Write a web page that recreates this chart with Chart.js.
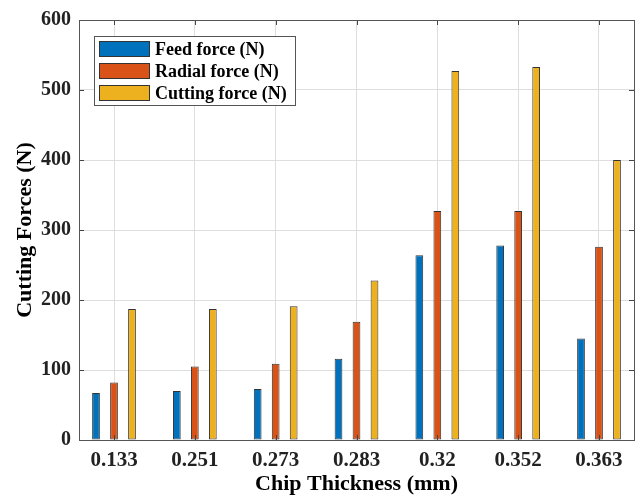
<!DOCTYPE html>
<html>
<head>
<meta charset="utf-8">
<title>Cutting forces vs chip thickness</title>
<script src="https://cdn.jsdelivr.net/npm/chart.js@4/dist/chart.umd.min.js"></script>
<style>
  html, body { margin: 0; padding: 0; background: #fff; }
  canvas { display: block; }
</style>
</head>
<body>
<canvas id="forces" width="637" height="498"></canvas>
<script>
// chip thickness groups and measured forces
const thickness = ["0.133", "0.251", "0.273", "0.283", "0.32", "0.352", "0.363"];
const feedForce = [67, 70, 73, 116, 264, 278, 145];
const radialForce = [82, 105, 109, 169, 327, 327, 276];
const cuttingForce = [187, 187, 191, 228, 527, 533, 400];
const yTicks = [0, 100, 200, 300, 400, 500, 600];

const serif = "'Liberation Serif', 'Times New Roman', serif";
const edge = "#333333";

const toPoints = vals => vals.map((v, i) => ({ x: i + 1, y: v }));

// inward tick marks on all four sides + closing box
const boxTicks = {
    id: "boxTicks",
    afterDatasetsDraw(chart) {
        const { ctx, chartArea: a, scales } = chart;
        ctx.save();
        ctx.strokeStyle = "#444";
        ctx.lineWidth = 1;
        ctx.beginPath();
        scales.x.ticks.forEach(t => {
            const px = Math.round(scales.x.getPixelForValue(t.value)) + 0.5;
            ctx.moveTo(px, a.top); ctx.lineTo(px, a.top + 5);
            ctx.moveTo(px, a.bottom); ctx.lineTo(px, a.bottom - 5);
        });
        scales.y.ticks.forEach(t => {
            const py = Math.round(scales.y.getPixelForValue(t.value)) + 0.5;
            ctx.moveTo(a.left, py); ctx.lineTo(a.left + 5, py);
            ctx.moveTo(a.right, py); ctx.lineTo(a.right - 5, py);
        });
        ctx.stroke();
        ctx.strokeStyle = "#555";
        ctx.strokeRect(Math.round(a.left) + 0.5, Math.round(a.top) + 0.5,
            Math.round(a.right - a.left), Math.round(a.bottom - a.top));
        ctx.restore();
    }
};

// legend box in the upper left corner of the axes
const boxLegend = {
    id: "boxLegend",
    afterDraw(chart) {
        const { ctx, chartArea: a } = chart;
        const x0 = a.left + 15, y0 = a.top + 16;
        ctx.save();
        ctx.fillStyle = "#fff";
        ctx.fillRect(x0, y0, 201, 69);
        ctx.strokeStyle = "#555";
        ctx.lineWidth = 1;
        ctx.strokeRect(x0 + 0.5, y0 + 0.5, 201, 69);
        ctx.font = "bold 18px " + serif;
        ctx.textBaseline = "middle";
        chart.data.datasets.forEach((ds, i) => {
            const cy = y0 + 13 + i * 22;
            ctx.fillStyle = ds.backgroundColor;
            ctx.fillRect(x0 + 5, cy - 8, 51, 16);
            ctx.strokeStyle = edge;
            ctx.strokeRect(x0 + 5.5, cy - 7.5, 50, 15);
            ctx.fillStyle = "#000";
            ctx.fillText(ds.label, x0 + 61, cy + 1);
        });
        ctx.restore();
    }
};

const canvas = document.getElementById("forces");
new Chart(canvas, {
    type: "bar",
    data: {
        datasets: [
            { label: "Feed force (N)", data: toPoints(feedForce), backgroundColor: "#0072BD" },
            { label: "Radial force (N)", data: toPoints(radialForce), backgroundColor: "#D95319" },
            { label: "Cutting force (N)", data: toPoints(cuttingForce), backgroundColor: "#EDB120" }
        ].map(ds => Object.assign(ds, {
            borderColor: edge,
            borderWidth: 1,
            borderSkipped: false,
            categoryPercentage: 0.668,
            barPercentage: 0.43
        }))
    },
    options: {
        responsive: false,
        animation: false,
        layout: { padding: { top: 20, right: 3, left: 0, bottom: 0 } },
        plugins: {
            legend: { display: false },
            tooltip: { enabled: false }
        },
        scales: {
            x: {
                type: "linear",
                min: 0.567,
                max: 7.433,
                offset: false,
                afterBuildTicks: s => { s.ticks = thickness.map((_, i) => ({ value: i + 1 })); },
                afterFit: s => { s.height = 58; },
                ticks: {
                    callback: v => thickness[v - 1],
                    font: { family: serif, size: 21, weight: "bold" },
                    color: "#222",
                    padding: 8,
                    maxRotation: 0
                },
                grid: { color: "#dedede", drawTicks: false, offset: false },
                border: { display: false },
                title: {
                    display: true,
                    text: "Chip Thickness (mm)",
                    font: { family: serif, size: 22, weight: "bold" },
                    color: "#000",
                    padding: { top: 0, bottom: 0 }
                }
            },
            y: {
                min: 0,
                max: 600,
                afterBuildTicks: s => { s.ticks = yTicks.map(v => ({ value: v })); },
                afterFit: s => { s.width = 79; },
                ticks: {
                    font: { family: serif, size: 20, weight: "bold" },
                    color: "#222",
                    padding: 8
                },
                grid: { color: "#dedede", drawTicks: false },
                border: { display: false },
                title: {
                    display: true,
                    text: "Cutting Forces (N)",
                    font: { family: serif, size: 22, weight: "bold" },
                    color: "#000",
                    padding: { top: 12, bottom: 0 }
                }
            }
        }
    },
    plugins: [boxTicks, boxLegend]
});
</script>
</body>
</html>
